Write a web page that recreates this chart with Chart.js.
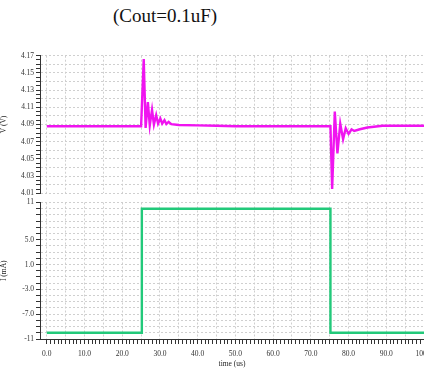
<!DOCTYPE html>
<html>
<head>
<meta charset="utf-8">
<script src="https://cdn.jsdelivr.net/npm/chart.js@4.4.0/dist/chart.umd.min.js"></script>
<style>
  html, body { margin: 0; padding: 0; background: #fff; overflow: hidden; width: 424px; height: 371px; }
  #title { position: absolute; left: 0; top: 6px; width: 330px; text-align: center;
           font-family: "Liberation Serif", serif; font-size: 19px;
           line-height: 20px; color: #111; white-space: nowrap; }
  .panel { position: absolute; left: 0; width: 444px; }
  #top { top: 48px; height: 152px; }
  #bottom { top: 196px; height: 175px; }
</style>
</head>
<body>
<div id="title">(Cout=0.1uF)</div>
<div class="panel" id="top"><canvas id="vChart"></canvas></div>
<div class="panel" id="bottom"><canvas id="iChart"></canvas></div>
<script>
// output voltage during the load step (us, V)
const timeV = [0, 25.0, 25.7, 26.2, 26.8, 27.3, 27.9, 28.4, 29.0, 29.5,
               30.1, 30.6, 31.2, 31.7, 32.3, 33.0, 35.0, 40.0, 45.0, 50.0,
               75.2, 75.65, 76.35, 77.05, 77.8, 78.55, 79.25, 80.0, 80.8, 81.5,
               83.0, 85.0, 89.0, 100];
const voltV = [4.088, 4.088, 4.166, 4.086, 4.116, 4.089, 4.107, 4.090, 4.101, 4.091,
               4.097, 4.091, 4.095, 4.0905, 4.093, 4.0905, 4.0895, 4.089, 4.0885, 4.088,
               4.088, 4.015, 4.105, 4.0565, 4.091, 4.073, 4.0856, 4.079, 4.0844, 4.0825,
               4.0845, 4.0865, 4.0885, 4.0885];

// load current (us, mA)
const timeI = [0, 25.2, 25.2, 75.2, 75.2, 100];
const currI = [-10, -10, 10, 10, -10, -10];

// tick labels
const vTickLabels = ['4.01', '4.03', '4.05', '4.07', '4.09', '4.11', '4.13', '4.15', '4.17'];
const iTickValues = [11, 5, 1, -3, -7, -11];
const iTickLabels = ['11', '5.0', '1.0', '-3.0', '-7.0', '-11'];
const xTickLabels = ['0.0', '10.0', '20.0', '30.0', '40.0', '50.0', '60.0', '70.0', '80.0', '90.0', '100.0'];

Chart.defaults.font.family = '"Liberation Serif", serif';
Chart.defaults.font.size = 7.5;
Chart.defaults.color = '#333';
Chart.defaults.animation = false;

const gridColor = '#cfcfcf';
const AXIS_W = 40;

function setTicks(values) {
  return scale => { scale.ticks = values.map(v => ({ value: v })); };
}
function range(a, b, step) {
  const out = [];
  for (let k = 0; a + k * step <= b + 1e-9; k++) out.push(Math.round((a + k * step) * 10000) / 10000);
  return out;
}

function xScale(showLabels) {
  return {
    type: 'linear',
    min: -1.8,
    max: 100,
    afterBuildTicks: setTicks(range(0, 100, 1)),
    ticks: {
      display: showLabels,
      autoSkip: false,
      maxRotation: 0,
      padding: 6,
      callback: v => (v % 10 === 0 ? xTickLabels[v / 10] : '')
    },
    grid: {
      drawTicks: showLabels,
      tickLength: 5,
      tickColor: '#333',
      color: c => (c.tick && c.tick.value % 5 === 0 ? gridColor : 'rgba(0,0,0,0)')
    },
    border: { display: showLabels, color: '#333', width: 1, dash: [2, 2] },
    title: {
      display: showLabels,
      text: 'time (us)',
      padding: { top: 0, bottom: 2 },
      font: { size: 7.5 },
      color: '#222'
    }
  };
}

// top panel: V (V)
new Chart(document.getElementById('vChart'), {
  type: 'line',
  data: {
    datasets: [{
      data: timeV.map((t, i) => ({ x: t, y: voltV[i] })),
      borderColor: '#f014f0',
      borderWidth: 2.4,
      pointRadius: 0,
      tension: 0
    }]
  },
  options: {
    responsive: true,
    maintainAspectRatio: false,
    layout: { padding: { top: 7.7, bottom: 6.7, left: 0, right: 20 } },
    plugins: { legend: { display: false }, tooltip: { enabled: false } },
    scales: {
      x: xScale(false),
      y: {
        min: 4.01,
        max: 4.17,
        afterFit: s => { s.width = AXIS_W; },
        afterBuildTicks: setTicks(range(4.01, 4.17, 0.005)),
        ticks: {
          autoSkip: false,
          padding: 2,
          callback: v => {
            const m = Math.round(v * 1000);
            return (m - 4010) % 20 === 0 ? vTickLabels[(m - 4010) / 20] : '';
          }
        },
        grid: {
          tickLength: 4,
          tickColor: '#333',
          color: c => (c.tick && Math.round(c.tick.value * 1000) % 10 === 0 ? gridColor : 'rgba(0,0,0,0)')
        },
        border: { color: '#333', width: 1, dash: [2, 2] },
        title: {
          display: true,
          text: 'V (V)',
          padding: { top: 0, bottom: 6 },
          font: { size: 7.5 },
          color: '#222'
        }
      }
    }
  }
});

// bottom panel: I (mA)
new Chart(document.getElementById('iChart'), {
  type: 'line',
  data: {
    datasets: [{
      data: timeI.map((t, i) => ({ x: t, y: currI[i] })),
      borderColor: '#22c97a',
      borderWidth: 2.4,
      pointRadius: 0,
      tension: 0
    }]
  },
  options: {
    responsive: true,
    maintainAspectRatio: false,
    layout: { padding: { top: 5, bottom: 0, left: 0, right: 20 } },
    plugins: { legend: { display: false }, tooltip: { enabled: false } },
    scales: {
      x: Object.assign(xScale(true), { afterFit: s => { s.height = 32; } }),
      y: {
        min: -11,
        max: 11,
        afterFit: s => { s.width = AXIS_W; },
        afterBuildTicks: setTicks(range(-11, 11, 1)),
        ticks: {
          autoSkip: false,
          padding: 2,
          callback: v => {
            const i = iTickValues.indexOf(Math.round(v));
            return i >= 0 ? iTickLabels[i] : '';
          }
        },
        grid: {
          tickLength: 4,
          tickColor: '#333',
          color: gridColor
        },
        border: { color: '#333', width: 1, dash: [2, 2] },
        title: {
          display: true,
          text: 'I (mA)',
          padding: { top: 0, bottom: 6 },
          font: { size: 7.5 },
          color: '#222'
        }
      }
    }
  }
});
</script>
</body>
</html>
